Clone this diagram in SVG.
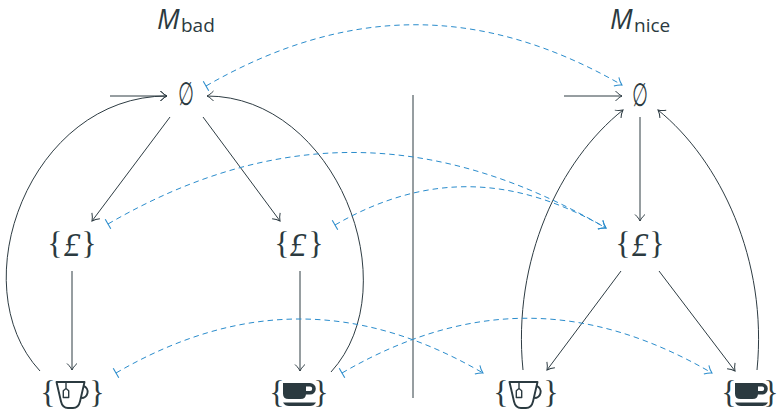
<svg xmlns="http://www.w3.org/2000/svg" xmlns:xlink="http://www.w3.org/1999/xlink" width="780" height="412" viewBox="0 0 780 412">
<style>
.e{fill:none;stroke:#2e3c43;stroke-width:1;marker-end:url(#ah)}
.d{fill:none;stroke:#2a8ccc;stroke-width:1;stroke-dasharray:5.5 4;marker-start:url(#bar);marker-end:url(#ahb)}
.t{font-family:"Liberation Serif",serif;fill:#2b3a40;font-size:32px;text-anchor:middle}
.p{font-family:"Liberation Serif",serif;font-style:italic;fill:#2b3a40;font-size:33px;text-anchor:middle}
.z{font-family:"DejaVu Sans",sans-serif;fill:#2b3a40;font-size:25px;text-anchor:middle}
.ti{font-family:"Open Sans",sans-serif;fill:#2b3a40}
</style>
<defs>
<marker id="ah" markerUnits="userSpaceOnUse" markerWidth="12" markerHeight="12" viewBox="-8 -6 10 12" refX="0" refY="0" orient="auto" overflow="visible">
<path d="M -6.5 -5 C -4 -2.2 -1.3 -0.6 0 0 C -1.3 0.6 -4 2.2 -6.5 5" fill="none" stroke="#2e3c43" stroke-width="1"/>
</marker>
<marker id="ahb" markerUnits="userSpaceOnUse" markerWidth="12" markerHeight="12" viewBox="-8 -6 10 12" refX="0" refY="0" orient="auto" overflow="visible">
<path d="M -6.5 -5 C -4 -2.2 -1.3 -0.6 0 0 C -1.3 0.6 -4 2.2 -6.5 5" fill="none" stroke="#2a8ccc" stroke-width="1"/>
</marker>
<marker id="bar" markerUnits="userSpaceOnUse" markerWidth="12" markerHeight="12" viewBox="-6 -6 12 12" refX="0" refY="0" orient="auto" overflow="visible">
<path d="M 0 -5.5 L 0 5.5" fill="none" stroke="#2a8ccc" stroke-width="1.1"/>
</marker>
<g id="tea">
<path d="M 0.5 0 H 28.5 L 24 19.5 Q 22.5 26 17 26 H 12 Q 6.5 26 5 19.5 Z" fill="none" stroke="#2b3a40" stroke-width="1.9" stroke-linejoin="round"/>
<path d="M 27.6 4 A 6.2 6.2 0 0 1 25.2 16" fill="none" stroke="#2b3a40" stroke-width="1.9"/>
<path d="M 10 0 V 6.5 M 7.3 15.5 V 8.8 L 10 6.5 L 12.7 8.8 V 15.5 Z" fill="none" stroke="#2b3a40" stroke-width="1.4" stroke-linejoin="round"/>
</g>
<g id="coffee">
<path d="M 0 0 H 23 V 10.5 Q 23 16 17.5 16 H 5.5 Q 0 16 0 10.5 Z" fill="#2b3a40"/>
<path d="M 21 0 H 27 A 5.8 5.8 0 0 1 27 11.6 H 21 Z M 23 3.6 H 27 A 2.2 2.2 0 0 1 27 8 H 23 Z" fill="#2b3a40" fill-rule="evenodd"/>
<path d="M 0 19.5 H 33 Q 31 23 27 23 H 6 Q 2 23 0 19.5 Z" fill="#2b3a40"/>
</g>
</defs>

<g id="titles">
<text class="ti" x="157" y="29" font-size="27" font-style="italic">M</text>
<text class="ti" x="181" y="32" font-size="19">bad</text>
<text class="ti" x="610" y="29" font-size="27" font-style="italic">M</text>
<text class="ti" x="634" y="32" font-size="19">nice</text>
</g>

<g id="separator">
<line x1="413" y1="95" x2="413" y2="398" stroke="#2e3c43" stroke-width="1"/>
</g>

<g id="bad-empty">
<text class="z" transform="translate(186,105) scale(0.72,1.3)" x="0" y="0">∅</text>
</g>
<g id="bad-pound1">
<text class="t" x="55" y="254">{</text>
<text class="p" x="72" y="256">£</text>
<text class="t" x="89" y="254">}</text>
</g>
<g id="bad-pound2">
<text class="t" x="282" y="254">{</text>
<text class="p" x="298" y="256">£</text>
<text class="t" x="316" y="254">}</text>
</g>
<g id="bad-tea">
<text class="t" x="48" y="403">{</text>
<use xlink:href="#tea" x="56" y="382"/>
<text class="t" x="97" y="403">}</text>
</g>
<g id="bad-coffee">
<text class="t" x="277" y="403">{</text>
<use xlink:href="#coffee" x="283" y="383"/>
<text class="t" x="321" y="403">}</text>
</g>

<g id="nice-empty">
<text class="z" transform="translate(640,106) scale(0.72,1.3)" x="0" y="0">∅</text>
</g>
<g id="nice-pound">
<text class="t" x="623" y="254">{</text>
<text class="p" x="640" y="256">£</text>
<text class="t" x="657" y="254">}</text>
</g>
<g id="nice-tea">
<text class="t" x="501" y="403">{</text>
<use xlink:href="#tea" x="509" y="382"/>
<text class="t" x="551" y="403">}</text>
</g>
<g id="nice-coffee">
<text class="t" x="729" y="403">{</text>
<use xlink:href="#coffee" x="735" y="383"/>
<text class="t" x="771" y="403">}</text>
</g>

<g id="connectors">
<path class="e" d="M 110 96 L 167 96"/>
<path class="e" d="M 170 117 L 92 221"/>
<path class="e" d="M 203 117 L 280 221"/>
<path class="e" d="M 72 271 L 72 370"/>
<path class="e" d="M 300 271 L 300 371"/>
<path class="e" d="M 40 371 C -40 285 30 96 167 96"/>
<path class="e" d="M 331 372 C 410 285 335 96 207 96"/>

<path class="e" d="M 564 96 L 622 96"/>
<path class="e" d="M 640 117 L 640 221"/>
<path class="e" d="M 621 271 L 547 370"/>
<path class="e" d="M 659 271 L 735 371"/>
<path class="e" d="M 523 370 C 512 260 560 160 623 110"/>
<path class="e" d="M 757 370 C 768 260 720 160 658 110"/>

<path class="d" d="M 206 86 C 347 5 481 4 622 85"/>
<path class="d" d="M 108 224 C 277 126 437 130 606 228"/>
<path class="d" d="M 335 225 C 427 172 514 175 606 228"/>
<path class="d" d="M 116 373 C 240 301 359 301 483 373"/>
<path class="d" d="M 342 373 C 468 300 586 300 712 373"/>
</g>
</svg>
